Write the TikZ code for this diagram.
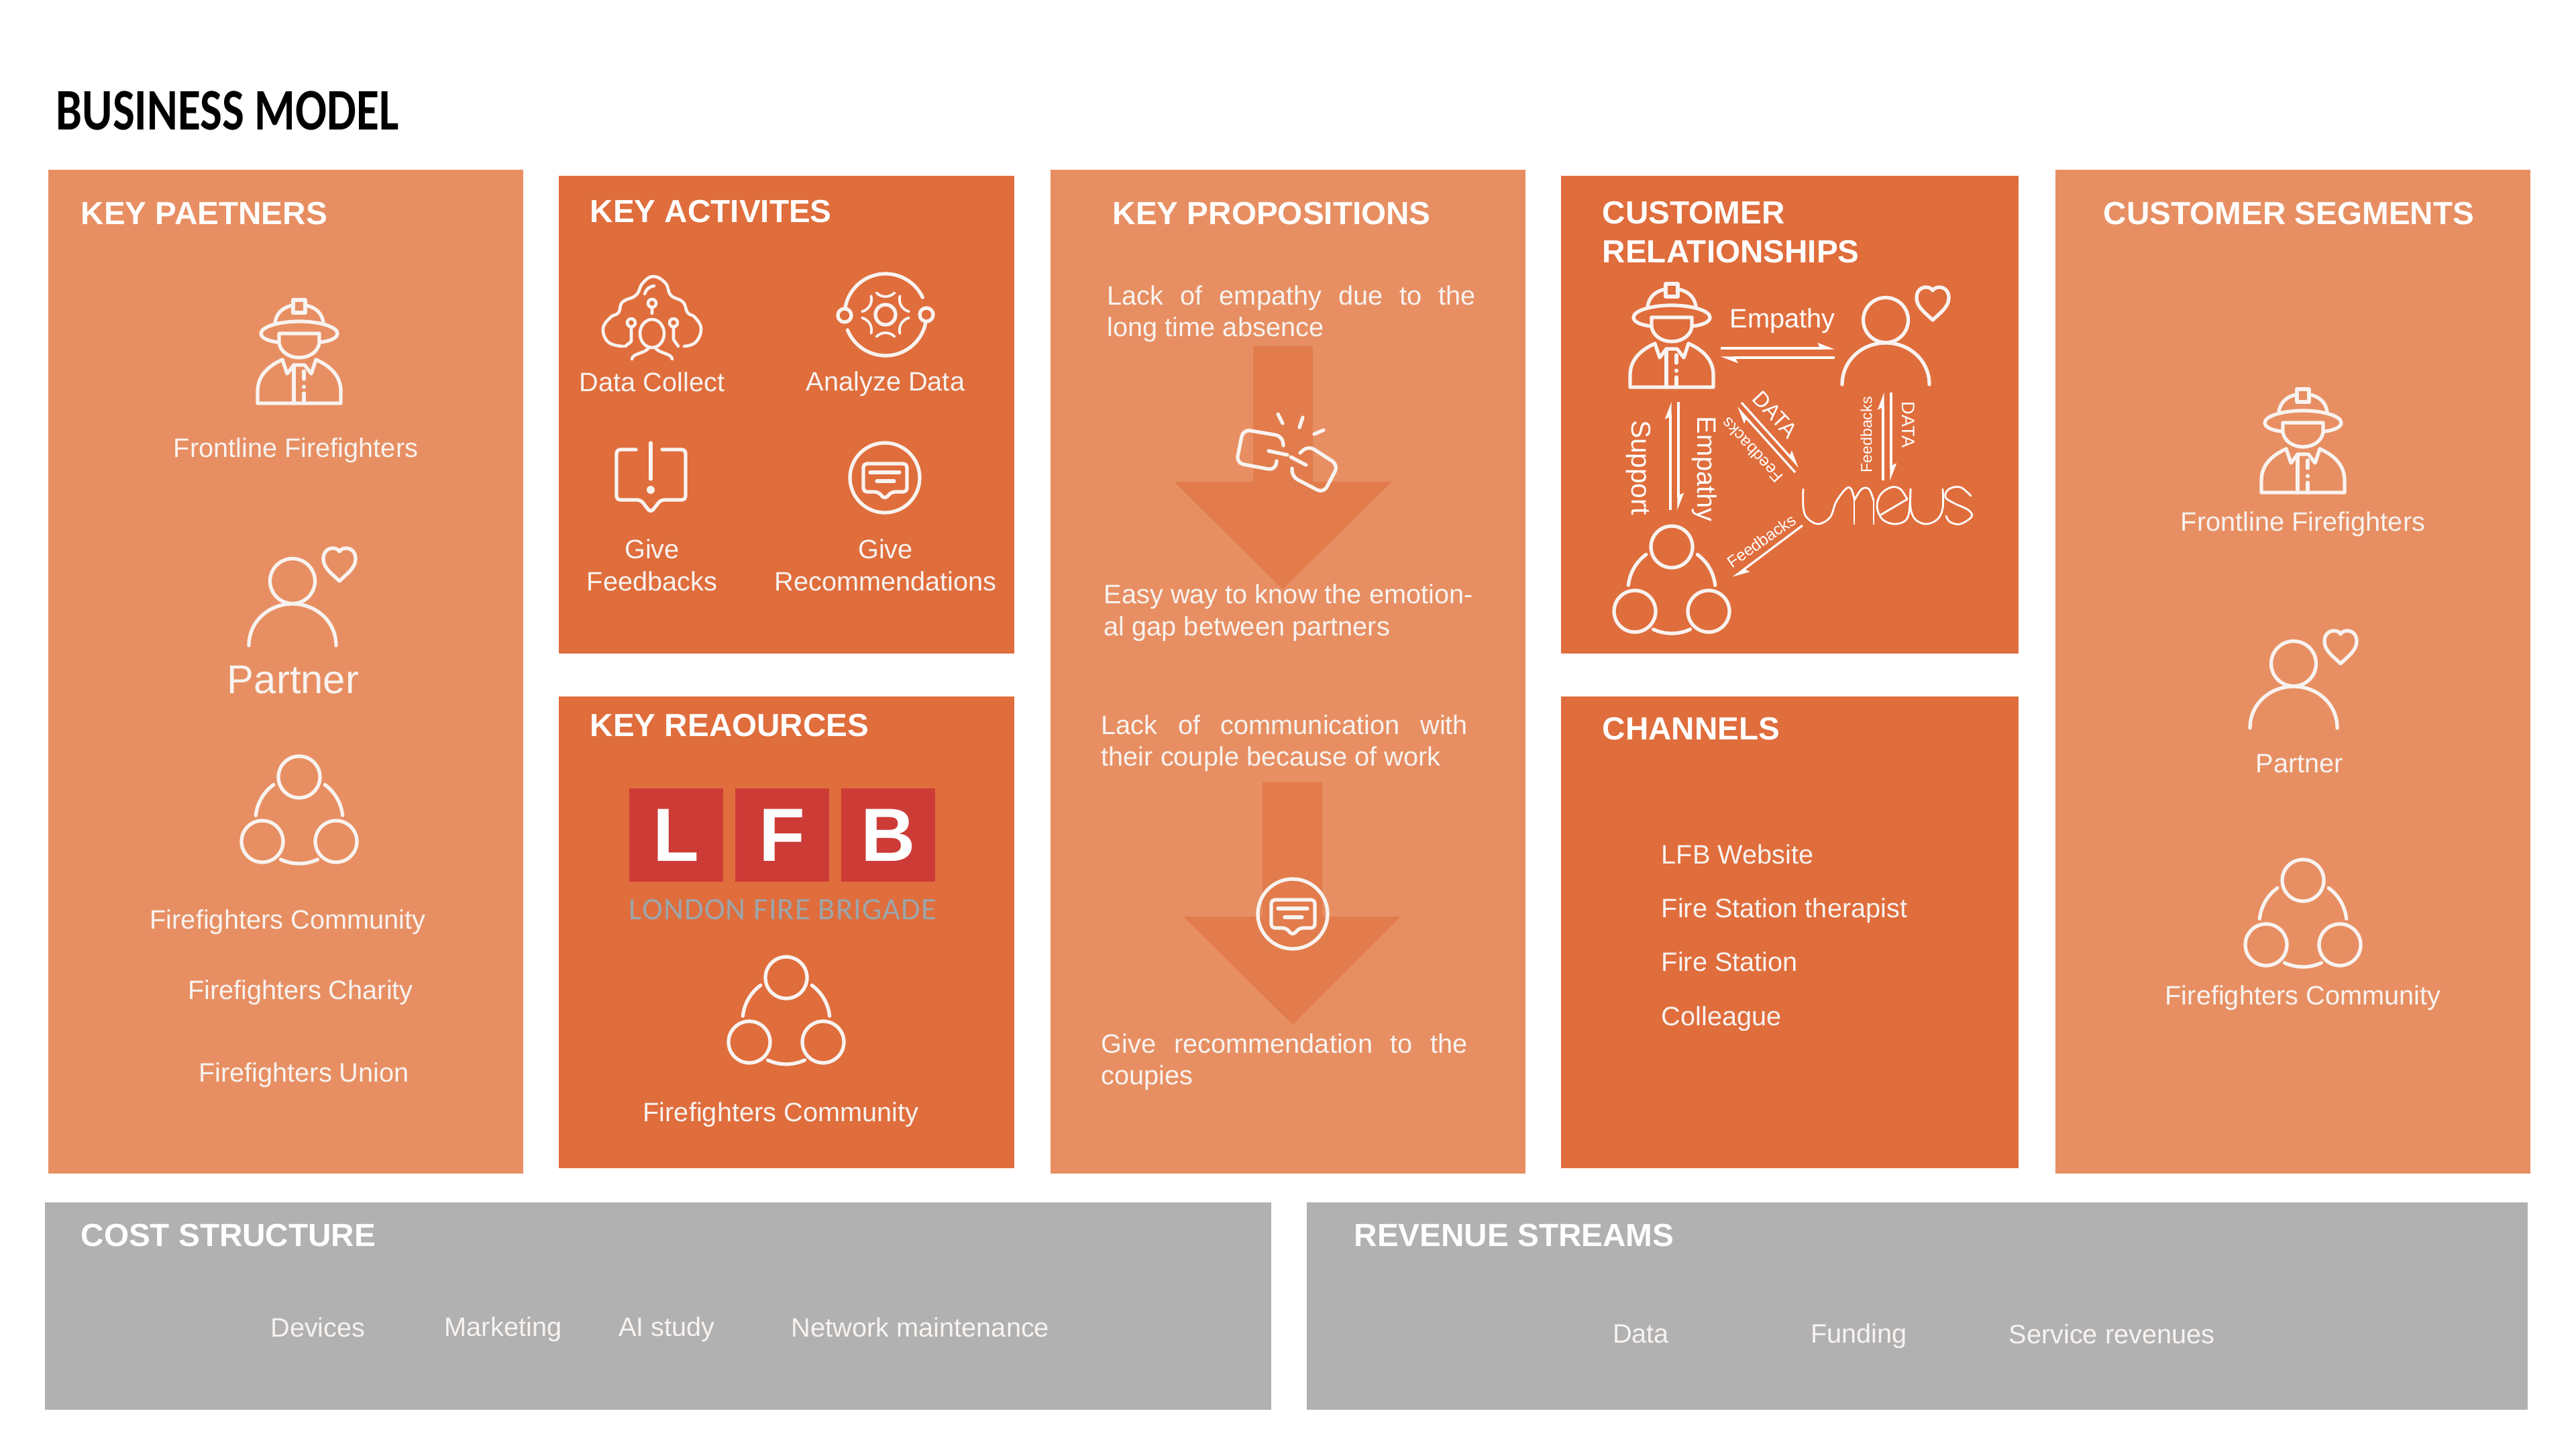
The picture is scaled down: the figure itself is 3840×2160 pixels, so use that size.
\documentclass[tikz,border=0pt]{standalone}
\usepackage{fontspec}
\setmainfont{Liberation Sans}
\newfontfamily\titlefont[FakeStretch=0.79]{Carlito}
\newfontfamily\lfbfont[LetterSpace=2.5]{Carlito}
\usepackage{tikz}
\usetikzlibrary{arrows.meta,positioning}
\usepackage{xcolor}
\definecolor{panellight}{RGB}{231,143,99}
\definecolor{paneldark}{RGB}{224,109,60}
\definecolor{panelgrey}{RGB}{177,177,177}
\definecolor{arrowfill}{RGB}{226,124,76}
\definecolor{lfbred}{RGB}{205,59,55}
\definecolor{lfbgrey}{RGB}{156,166,170}
\definecolor{softwhite}{RGB}{248,243,240}
\newcommand{\bodysize}{\fontsize{11.3}{13.6}\selectfont}

\begin{document}
\begin{tikzpicture}[
    x=0.01cm, y=-0.01cm,
    panel/.style={rectangle, anchor=north west, inner sep=0pt, outer sep=0pt},
    headtext/.style={anchor=base west, inner sep=0pt, text=white, align=left,
        font=\fontsize{13.55}{16.4}\selectfont\bfseries},
    bodytext/.style={inner sep=0pt, text=softwhite, align=center, font=\bodysize},
    paratext/.style={anchor=base west, inner sep=0pt, text=softwhite, font=\bodysize},
    smalltext/.style={inner sep=0pt, text=white},
    lfbsquare/.style={rectangle, fill=lfbred, minimum width=1.4cm, minimum height=1.39cm, inner sep=0pt, outer sep=0pt,
        text=white, font=\fontsize{32}{36}\selectfont\bfseries},
    icon/.style={draw=softwhite, line width=1.5pt, line cap=round, line join=round},
    thinicon/.style={draw=white, line width=0.8pt, line cap=round, line join=round},
    halfarrow/.style={-{Stealth[harpoon,length=6pt,width=4.5pt,inset=1pt]}, white, line width=0.9pt},
    pics/firefighter/.style={code={
        \draw[icon] (-9,-76) rectangle (9,-57);
        \draw[icon] (-36,-42) .. controls (-34,-58) and (-22,-66) .. (-9,-68);
        \draw[icon] (36,-42) .. controls (34,-58) and (22,-66) .. (9,-68);
        \draw[icon] (-32,-13) .. controls (-48,-15) and (-57,-20) .. (-57,-26)
            .. controls (-57,-36) and (-30,-44) .. (0,-44)
            .. controls (30,-44) and (57,-36) .. (57,-26)
            .. controls (57,-20) and (48,-15) .. (32,-13);
        \draw[icon] (-30,-26) -- (30,-26) -- (30,-12) .. controls (28,2) and (14,10) .. (0,10)
            .. controls (-14,10) and (-28,2) .. (-30,-12) -- cycle;
        \draw[icon] (-25,13) .. controls (-50,24) and (-62,40) .. (-62,60) -- (-62,78) -- (62,78)
            -- (62,60) .. controls (62,40) and (50,24) .. (25,13);
        \draw[icon] (-25,13) -- (-18,34) -- (-8,21) -- (8,21) -- (18,34) -- (25,13);
        \draw[icon] (-8,21) -- (-8,78) (7,30) -- (7,42) (7,53) -- (7,54) (7,63) -- (7,78);
    }},
    pics/partnerman/.style={code={
        \draw[icon] (0,0) circle[radius=33.5];
        \draw[icon] (-65,96) .. controls (-65,60) and (-35,34) .. (0,34)
            .. controls (35,34) and (65,60) .. (65,96);
        \draw[icon] (70,0) .. controls (60,-10) and (46,-19) .. (46,-33)
            .. controls (46,-52) and (66,-52) .. (70,-44)
            .. controls (74,-52) and (94,-52) .. (94,-33)
            .. controls (94,-19) and (80,-10) .. (70,0) -- cycle;
    }},
    pics/community/.style={code={
        \draw[icon] (0,-64) circle[radius=31] (-55,32) circle[radius=31] (55,32) circle[radius=31];
        \draw[icon] (186:65) arc[start angle=186, end angle=234, radius=65];
        \draw[icon] (306:65) arc[start angle=306, end angle=354, radius=65];
        \draw[icon] (65:65) arc[start angle=65, end angle=115, radius=65];
    }},
    pics/chatcircle/.style={code={
        \draw[icon] (0,0) circle[radius=52];
        \draw[icon, rounded corners=1.5pt] (-32,-21) -- (33,-21) -- (33,21) -- (10,21) -- (0,32) -- (-10,21)
            -- (-32,21) -- cycle;
        \draw[icon] (-22,-8) -- (22,-8) (-12,5) -- (14,5);
    }},
    pics/cloudpeople/.style={code={
        \draw[icon, line width=1.3pt] plot[smooth, tension=0.75] coordinates {(-44,40) (-65,34) (-73,14) (-62,-3) (-50,-10)
            (-44,-26) (-24,-36) (-14,-54) (2,-64) (20,-54) (28,-36) (46,-26) (53,-10) (64,-3) (73,14) (65,34) (48,40)};
        \draw[icon, line width=1.3pt] (0,21) ellipse[x radius=18, y radius=21];
        \draw[icon, line width=1.3pt] (-31,5) circle[radius=6] (32,5) circle[radius=6] (0,-24) circle[radius=6];
        \draw[icon, line width=1.3pt] (-31,11) -- (-31,33) -- (-40,40) (32,11) -- (32,30) -- (39,40) (0,-18) -- (0,-9);
        \draw[icon, line width=1.3pt] (-11,-38) .. controls (-9,-45) and (-4,-49) .. (3,-50);
        \draw[icon, line width=1.3pt] (-30,59) .. controls (-28,50) and (-14,52) .. (-5,43);
        \draw[icon, line width=1.3pt] (30,59) .. controls (28,50) and (14,52) .. (5,43);
    }},
    pics/analyzering/.style={code={
        \draw[icon] (190:61) arc[start angle=190, end angle=335, radius=61];
        \draw[icon] (10:61) arc[start angle=10, end angle=158, radius=61];
        \draw[icon] (-61,1) circle[radius=10] (61,0) circle[radius=10] (0,0) circle[radius=15];
        \draw[icon, line width=1.1pt] (90:46)+(225:19) arc[start angle=225, end angle=315, radius=19];
        \draw[icon, line width=1.1pt] (270:46)+(45:19) arc[start angle=45, end angle=135, radius=19];
        \draw[icon, line width=1.1pt] (30:46)+(165:19) arc[start angle=165, end angle=255, radius=19];
        \draw[icon, line width=1.1pt] (150:46)+(285:19) arc[start angle=285, end angle=375, radius=19];
        \draw[icon, line width=1.1pt] (210:46)+(345:19) arc[start angle=345, end angle=435, radius=19];
        \draw[icon, line width=1.1pt] (330:46)+(105:19) arc[start angle=105, end angle=195, radius=19];
    }},
    pics/alertbubble/.style={code={
        \draw[icon, rounded corners=1.5pt] (-22,-42) -- (-51,-42) -- (-51,33) -- (-15,33) -- (0,52) -- (15,33)
            -- (52,33) -- (52,-42) -- (17,-42);
        \draw[icon] (0,-52) -- (0,2);
        \fill[softwhite] (0,18) circle[radius=6];
    }},
    pics/brokenlink/.style={code={
        \draw[icon, rounded corners=3pt] (-6,-19) -- (-7,-33) -- (-66,-43) -- (-76,7) -- (-18,18) -- (-16,4);
        \draw[icon, rounded corners=3pt] (19,-8) -- (31,-19) -- (76,10) -- (54,52) -- (6,27) -- (7,15);
        \draw[icon] (-28,-11) -- (0,-5) (5,-2) -- (28,10);
        \draw[icon] (-14,-66) -- (-7,-52) (23,-61) -- (18,-46) (54,-42) -- (40,-36);
    }},
    pics/umeuslogo/.style={code={
        \draw[thinicon] plot[smooth, tension=0.6] coordinates {(-125,-25) (-125,1) (-120,17) (-103,27) (-85,17) (-76,-6) (-62,-25) (-54,-26) (-49,-11)};
        \draw[thinicon] (-49,-11) -- (-49,27) (-20,-8) -- (-20,27);
        \draw[thinicon] plot[smooth, tension=0.6] coordinates {(-49,-8) (-38,-25) (-27,-25) (-20,-8)};
        \draw[thinicon] (-9,13) -- (30,-10);
        \draw[thinicon] plot[smooth, tension=0.6] coordinates {(30,-10) (20,-25) (7,-28) (-9,-18) (-15,1) (-7,20) (11,27) (27,22) (33,8) (35,-25)};
        \draw[thinicon] plot[smooth, tension=0.6] coordinates {(35,-25) (35,3) (42,20) (58,27) (75,20) (83,3) (83,-25)};
        \draw[thinicon] plot[smooth, tension=0.6] coordinates {(125,-15) (109,-28) (92,-25) (87,-13) (100,-4) (121,6) (126,16) (109,27) (94,24) (88,15)};
    }},
    >=Stealth
]
\useasboundingbox (0,0) rectangle (3840,2160);

\node[anchor=base west, inner sep=0pt, font=\titlefont\fontsize{25}{30}\selectfont\bfseries] (title) at (83,193) {BUSINESS MODEL};

% panels
\node[panel, fill=panellight, minimum width=7.08cm, minimum height=14.95cm] (partners) at (72,253) {};
\node[panel, fill=paneldark, minimum width=6.79cm, minimum height=7.12cm] (activities) at (833,262) {};
\node[panel, fill=paneldark, minimum width=6.79cm, minimum height=7.03cm] (resources) at (833,1038) {};
\node[panel, fill=panellight, minimum width=7.08cm, minimum height=14.95cm] (propositions) at (1566,253) {};
\node[panel, fill=paneldark, minimum width=6.82cm, minimum height=7.12cm] (relations) at (2327,262) {};
\node[panel, fill=paneldark, minimum width=6.82cm, minimum height=7.03cm] (channels) at (2327,1038) {};
\node[panel, fill=panellight, minimum width=7.08cm, minimum height=14.95cm] (segments) at (3064,253) {};
\node[panel, fill=panelgrey, minimum width=18.27cm, minimum height=3.09cm] (cost) at (67,1792) {};
\node[panel, fill=panelgrey, minimum width=18.19cm, minimum height=3.09cm] (revenue) at (1948,1792) {};

% headings
\node[headtext] (partnershead) at (120,334) {KEY PAETNERS};
\node[headtext] (activitieshead) at (879,331) {KEY ACTIVITES};
\node[headtext] (resourceshead) at (879,1097) {KEY REAOURCES};
\node[headtext] (propositionshead) at (1658,334) {KEY PROPOSITIONS};
\node[headtext] (relationshead) at (2388,391) {CUSTOMER\\RELATIONSHIPS};
\node[headtext] (channelshead) at (2388,1102) {CHANNELS};
\node[headtext] (segmentshead) at (3135,334) {CUSTOMER SEGMENTS};
\node[headtext] (costhead) at (120,1857) {COST STRUCTURE};
\node[headtext] (revenuehead) at (2018,1857) {REVENUE STREAMS};

% key partners
\pic at (446,523) {firefighter};
\node[bodytext] (partnersfront) at (441,671) {Frontline Firefighters};
\pic at (436,866) {partnerman};
\node[bodytext, font=\fontsize{17}{20}\selectfont] (partnersman) at (437,1013) {Partner};
\pic at (446,1222) {community};
\node[bodytext] (partnerscomm) at (429,1374) {Firefighters Community};
\node[bodytext] (partnerscharity) at (448,1479) {Firefighters Charity};
\node[bodytext] (partnersunion) at (453,1602) {Firefighters Union};

% key activities
\pic at (972,476) {cloudpeople};
\node[bodytext] (collect) at (972,569) {Data Collect};
\pic at (1320,469) {analyzering};
\node[bodytext] (analyze) at (1320,572) {Analyze Data};
\pic at (970,712) {alertbubble};
\node[bodytext] (feedbacks) at (972,842) {Give\\Feedbacks};
\pic at (1319,712) {chatcircle};
\node[bodytext] (recommend) at (1320,842) {Give\\Recommendations};

% key resources
\node[lfbsquare, anchor=north west] (lfbl) at (938,1175) {L};
\node[lfbsquare, right=0.18cm of lfbl] (lfbf) {F};
\node[lfbsquare, right=0.18cm of lfbf] (lfbb) {B};
\node[anchor=base west, inner sep=0pt, text=lfbgrey, font=\lfbfont\fontsize{13.2}{15}\selectfont] (lfbname) at (937,1370) {LONDON FIRE BRIGADE};
\pic at (1172,1521) {community};
\node[bodytext] (resourcescomm) at (1164,1661) {Firefighters Community};

% key propositions
\fill[arrowfill] (1868,516) -- (1957,516) -- (1957,718) -- (2075,718) -- (1912,878) -- (1750,718) -- (1868,718) -- cycle;
\fill[arrowfill] (1882,1166) -- (1971,1166) -- (1971,1366) -- (2088,1366) -- (1927,1527) -- (1764,1366) -- (1882,1366) -- cycle;
\pic at (1919,683) {brokenlink};
\pic at (1927,1362) {chatcircle};
\node[paratext, text width=5.49cm, align=justify] (lackempathy) at (1650,454) {Lack of empathy due to the\linebreak long time absence};
\node[paratext, align=left] (easyway) at (1645,947) {Easy way to know the emotion-\\al gap between partners};
\node[paratext, text width=5.46cm, align=justify] (lackcomm) at (1641,1094) {Lack of communication with\linebreak their couple because of work};
\node[paratext, text width=5.46cm, align=justify] (giverec) at (1641,1569) {Give recommendation to the\linebreak coupies};

% customer relationships
\pic at (2492,499) {firefighter};
\pic at (2811,477) {partnerman};
\pic at (2492,879) {community};
\pic at (2813,754) {umeuslogo};

\coordinate (empathyleft) at (2565,519);
\coordinate (empathyright) at (2735,519);
\coordinate (backright) at (2735,533);
\coordinate (backleft) at (2565,533);
\coordinate (supportlow) at (2490,760);
\coordinate (supporttop) at (2490,599);
\coordinate (empathytop) at (2502,599);
\coordinate (empathylow) at (2502,760);
\coordinate (datastart) at (2596,600);
\coordinate (dataend) at (2682,696);
\coordinate (backstart) at (2676,704);
\coordinate (backend) at (2589,607);
\coordinate (feedup) at (2807,716);
\coordinate (feedupend) at (2807,585);
\coordinate (datadown) at (2819,585);
\coordinate (datadownend) at (2819,716);
\coordinate (umeusout) at (2687,783);
\coordinate (commin) at (2583,861);

\draw[halfarrow] (empathyleft) -- (empathyright);
\draw[halfarrow] (backright) -- (backleft);
\draw[halfarrow] (supportlow) -- (supporttop);
\draw[halfarrow] (empathytop) -- (empathylow);
\draw[halfarrow] (datastart) -- (dataend);
\draw[halfarrow] (backstart) -- (backend);
\draw[halfarrow] (feedup) -- (feedupend);
\draw[halfarrow] (datadown) -- (datadownend);
\draw[halfarrow] (umeusout) -- (commin);

\node[smalltext, font=\bodysize] (empathyh) at (2657,478) {Empathy};
\node[smalltext, rotate=-90, font=\fontsize{11.5}{14}\selectfont] (supportv) at (2442,697) {Support};
\node[smalltext, rotate=-90, font=\bodysize] (empathyv) at (2541,699) {Empathy};
\node[smalltext, rotate=-47, font=\fontsize{9.2}{11}\selectfont] (datad) at (2646,618) {DATA};
\node[smalltext, rotate=133, font=\fontsize{7}{8}\selectfont] (feedd) at (2612,671) {Feedbacks};
\node[smalltext, rotate=90, font=\fontsize{6.6}{8}\selectfont] (feedv) at (2782,648) {Feedbacks};
\node[smalltext, rotate=-90, font=\fontsize{7.7}{9}\selectfont] (datav) at (2845,633) {DATA};
\node[smalltext, rotate=35, font=\fontsize{6.9}{8}\selectfont] (feedb) at (2626,806) {Feedbacks};

% channels
\node[bodytext, anchor=west] (website) at (2476,1273) {LFB Website};
\node[bodytext, anchor=west] (therapist) at (2476,1357) {Fire Station therapist};
\node[bodytext, anchor=west] (station) at (2476,1433) {Fire Station};
\node[bodytext, anchor=west] (colleague) at (2476,1518) {Colleague};

% customer segments
\pic at (3433,656) {firefighter};
\node[bodytext] (segmentsfront) at (3433,781) {Frontline Firefighters};
\pic at (3419,989) {partnerman};
\node[bodytext] (segmentsman) at (3428,1138) {Partner};
\pic at (3433,1376) {community};
\node[bodytext] (segmentscomm) at (3433,1487) {Firefighters Community};

% cost and revenue
\node[bodytext] (devices) at (474,1978) {Devices};
\node[bodytext] (marketing) at (750,1981) {Marketing};
\node[bodytext] (aistudy) at (994,1981) {AI study};
\node[bodytext] (network) at (1372,1978) {Network maintenance};
\node[bodytext] (datarev) at (2446,1988) {Data};
\node[bodytext] (funding) at (2771,1991) {Funding};
\node[bodytext] (service) at (3148,1988) {Service revenues};
\end{tikzpicture}
\end{document}
